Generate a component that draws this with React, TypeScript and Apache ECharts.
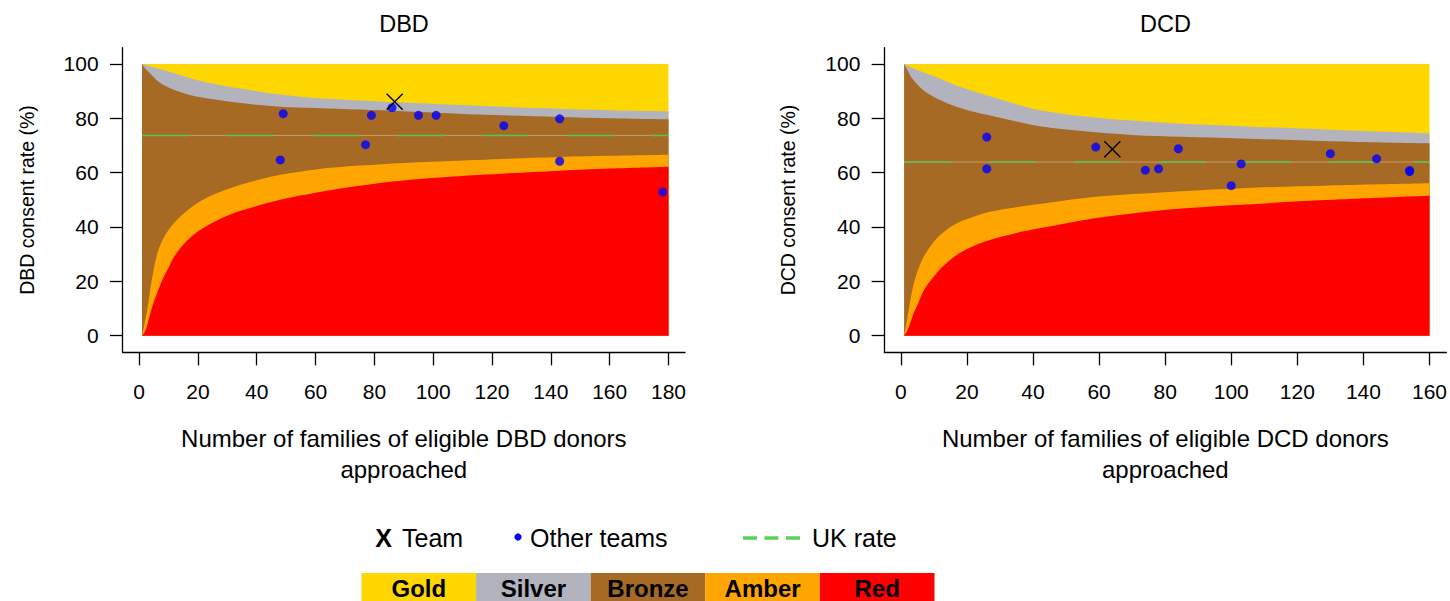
import React, { useEffect, useRef } from "react";
import * as echarts from "echarts";

// ---------- DATA ----------
const bandNames = ["Gold", "Silver", "Bronze", "Amber", "Red"];
const bandColors = ["#FFD700", "#B3B3BE", "#A66A24", "#FFA500", "#FF0000"];

const yTicks = [0, 20, 40, 60, 80, 100];
const dbdXTicks = [0, 20, 40, 60, 80, 100, 120, 140, 160, 180];
const dcdXTicks = [0, 20, 40, 60, 80, 100, 120, 140, 160];

// DBD funnel boundaries
const dbdX = [1, 2, 3, 4, 6, 8, 10, 12, 15, 19, 24, 31, 40, 48, 60, 75, 90, 115, 143, 160, 180];
const dbdTop = [100, 100, 100, 100, 100, 100, 100, 100, 100, 100, 100, 100, 100, 100, 100, 100, 100, 100, 100, 100, 100];
const dbdGoldSilver = [100, 99.7, 99.4, 99.1, 98.5, 97.8, 97.2, 96.6, 95.6, 94.3, 93.0, 91.5, 90.0, 88.8, 87.5, 86.6, 85.8, 84.6, 83.5, 83.0, 82.6];
const dbdSilverBronze = [100, 98.5, 97.3, 96.2, 94.0, 92.4, 91.3, 90.4, 89.3, 88.1, 87.2, 86.1, 85.0, 84.3, 83.8, 83.2, 82.6, 81.4, 80.5, 80.0, 79.6];
const dbdBronzeAmber = [0, 5.0, 11.0, 18.5, 29.5, 35.3, 38.9, 41.6, 44.8, 48.2, 51.3, 54.3, 57.2, 59.2, 61.2, 62.6, 63.6, 64.7, 65.8, 66.2, 66.6];
const dbdAmberRed = [0, 1.5, 4.8, 9.0, 15.3, 20.8, 25.0, 29.2, 33.5, 37.5, 41.0, 44.6, 47.7, 50.0, 52.6, 55.2, 57.1, 59.1, 60.7, 61.5, 62.2];
const dbdUkRate = 73.7;
const dbdOtherX = [49, 48, 79, 77, 86, 95, 101, 124, 143, 143, 178];
const dbdOtherY = [81.7, 64.7, 81.1, 70.3, 83.9, 81.1, 81.1, 77.3, 79.8, 64.2, 52.9];
const dbdTeam = [86.9, 86.1];

// DCD funnel boundaries
const dcdX = [1, 2, 3, 4, 5, 7, 10, 13, 17, 22, 27, 35, 42, 55, 70, 85, 103, 130, 160];
const dcdTop = [100, 100, 100, 100, 100, 100, 100, 100, 100, 100, 100, 100, 100, 100, 100, 100, 100, 100, 100];
const dcdGoldSilver = [100, 99.4, 98.8, 98.3, 97.8, 96.9, 95.5, 94.0, 92.0, 90.0, 88.1, 85.2, 83.0, 80.8, 79.2, 78.0, 77.1, 75.8, 74.5];
const dcdSilverBronze = [100, 97.8, 95.4, 93.8, 92.4, 90.1, 87.8, 86.1, 84.2, 82.4, 81.0, 78.8, 77.1, 75.3, 73.9, 73.2, 72.6, 71.6, 70.8];
const dcdBronzeAmber = [0, 6.5, 14.0, 19.5, 23.5, 29.2, 34.6, 38.2, 41.4, 43.8, 45.6, 47.3, 48.5, 50.6, 52.1, 53.2, 54.3, 55.3, 56.1];
const dcdAmberRed = [0, 2.0, 5.2, 8.6, 11.2, 16.8, 21.8, 25.8, 29.8, 33.0, 35.2, 37.8, 39.5, 42.5, 45.0, 46.8, 48.2, 50.0, 51.5];
const dcdUkRate = 63.9;
const dcdOtherX = [26, 26, 59, 74, 78, 84, 100, 103, 130, 144, 154, 154];
const dcdOtherY = [73.1, 61.4, 69.4, 60.9, 61.4, 68.8, 55.2, 63.2, 67.0, 65.1, 60.4, 60.8];
const dcdTeam = [64.0, 68.6];

const FONT = "'Liberation Sans', Arial, Helvetica, sans-serif";

function panelSeries(
  gi: number,
  xs: number[],
  bounds: number[][],
  uk: number,
  ox: number[],
  oy: number[],
  team: number[]
) {
  // each band is drawn as an area from its upper boundary down to 0; later bands paint over earlier ones
  const areas = bandNames.map((n, i) => ({
    type: "line",
    name: n,
    xAxisIndex: gi,
    yAxisIndex: gi,
    data: xs.map((x, k) => [x, bounds[i][k]]),
    symbol: "none",
    smooth: 0.35,
    lineStyle: { width: 0, color: bandColors[i] },
    areaStyle: { color: bandColors[i], opacity: 1 },
    silent: true,
    z: 1 + i,
  }));
  const ukData = [
    [xs[0], uk],
    [xs[xs.length - 1], uk],
  ];
  return [
    ...areas,
    {
      type: "line",
      xAxisIndex: gi,
      yAxisIndex: gi,
      data: ukData,
      symbol: "none",
      lineStyle: { color: "#C49C70", width: 1 },
      silent: true,
      z: 7,
    },
    {
      type: "line",
      xAxisIndex: gi,
      yAxisIndex: gi,
      data: ukData,
      symbol: "none",
      lineStyle: { color: "#55C455", width: 1.5, type: [47, 38] },
      silent: true,
      z: 8,
    },
    {
      type: "scatter",
      xAxisIndex: gi,
      yAxisIndex: gi,
      data: ox.map((x, i) => [x, oy[i]]),
      symbol: "circle",
      symbolSize: 9,
      itemStyle: { color: "#0000FF" },
      silent: true,
      z: 9,
    },
    {
      type: "custom",
      xAxisIndex: gi,
      yAxisIndex: gi,
      data: [team],
      encode: { x: 0, y: 1 },
      renderItem: (params: any, api: any) => {
        const c = api.coord([api.value(0), api.value(1)]);
        const h = 8;
        return {
          type: "group",
          children: [
            { type: "line", shape: { x1: c[0] - h, y1: c[1] - h, x2: c[0] + h, y2: c[1] + h }, style: { stroke: "#000", lineWidth: 1.4 } },
            { type: "line", shape: { x1: c[0] - h, y1: c[1] + h, x2: c[0] + h, y2: c[1] - h }, style: { stroke: "#000", lineWidth: 1.4 } },
          ],
        };
      },
      silent: true,
      z: 10,
    },
  ];
}

function xAxisFor(gi: number, min: number, max: number, ticks: number[], name: string) {
  return {
    gridIndex: gi,
    type: "value",
    min,
    max,
    axisLine: { show: true, onZero: false, lineStyle: { color: "#000", width: 1.3 } },
    axisTick: { show: true, length: 13, customValues: ticks, lineStyle: { color: "#000", width: 1.3 } },
    axisLabel: { customValues: ticks, margin: 29, fontSize: 21, color: "#000", fontFamily: FONT },
    splitLine: { show: false },
    name,
    nameLocation: "middle",
    nameGap: 71,
    nameTextStyle: { fontSize: 24, lineHeight: 31, color: "#000", fontFamily: FONT },
  };
}

function yAxisFor(gi: number, name: string) {
  return {
    gridIndex: gi,
    type: "value",
    min: -6.13,
    max: 106.0,
    axisLine: { show: true, onZero: false, lineStyle: { color: "#000", width: 1.3 } },
    axisTick: { show: true, length: 12.7, customValues: yTicks, lineStyle: { color: "#000", width: 1.3 } },
    axisLabel: { customValues: yTicks, margin: 24, fontSize: 21, color: "#000", fontFamily: FONT },
    splitLine: { show: false },
    name,
    nameLocation: "middle",
    nameGap: 86,
    nameTextStyle: { fontSize: 19.5, color: "#000", fontFamily: FONT },
  };
}

export default function App() {
  const ref = useRef<HTMLDivElement>(null);
  useEffect(() => {
    if (!ref.current) return;
    const chart = echarts.init(ref.current, undefined, { renderer: "svg" });

    const legendY = 538;
    const barTop = 573;
    const barLeft = 361.5;
    const segW = 114.6;

    const graphics: any[] = [
      { type: "text", x: 404, y: 24, style: { text: "DBD", fontSize: 23.5, fontFamily: FONT, fill: "#000", align: "center", verticalAlign: "middle" } },
      { type: "text", x: 1165.5, y: 24, style: { text: "DCD", fontSize: 23.5, fontFamily: FONT, fill: "#000", align: "center", verticalAlign: "middle" } },
      { type: "text", x: 383.5, y: legendY, style: { text: "X", fontSize: 25, fontWeight: "bold", fontFamily: FONT, fill: "#000", align: "center", verticalAlign: "middle" } },
      { type: "text", x: 402, y: legendY, style: { text: "Team", fontSize: 25, fontFamily: FONT, fill: "#000", align: "left", verticalAlign: "middle" } },
      { type: "circle", shape: { cx: 518, cy: legendY - 1, r: 3.6 }, style: { fill: "#0000FF" } },
      { type: "text", x: 530, y: legendY, style: { text: "Other teams", fontSize: 25, fontFamily: FONT, fill: "#000", align: "left", verticalAlign: "middle" } },
      { type: "line", shape: { x1: 743, y1: legendY, x2: 800, y2: legendY }, style: { stroke: "#5AD25A", lineWidth: 3.5, lineDash: [14, 7.5] } },
      { type: "text", x: 812, y: legendY, style: { text: "UK rate", fontSize: 25, fontFamily: FONT, fill: "#000", align: "left", verticalAlign: "middle" } },
    ];
    bandNames.forEach((n, i) => {
      graphics.push({
        type: "rect",
        shape: { x: barLeft + i * segW, y: barTop, width: segW, height: 40 },
        style: { fill: bandColors[i] },
      });
      graphics.push({
        type: "text",
        x: barLeft + i * segW + segW / 2,
        y: 588,
        style: { text: n, fontSize: 24, fontWeight: "bold", fontFamily: FONT, fill: "#000", align: "center", verticalAlign: "middle" },
        z: 10,
      });
    });

    chart.setOption({
      animation: false,
      textStyle: { fontFamily: FONT },
      grid: [
        { left: 122.67, top: 47.67, width: 562.3, height: 304.67, containLabel: false },
        { left: 884.33, top: 47.67, width: 562.4, height: 304.67, containLabel: false },
      ],
      xAxis: [
        xAxisFor(0, -5.58, 185.6, dbdXTicks, "Number of families of eligible DBD donors\napproached"),
        xAxisFor(1, -5.0, 165.1, dcdXTicks, "Number of families of eligible DCD donors\napproached"),
      ],
      yAxis: [yAxisFor(0, "DBD consent rate (%)"), yAxisFor(1, "DCD consent rate (%)")],
      series: [
        ...panelSeries(0, dbdX, [dbdTop, dbdGoldSilver, dbdSilverBronze, dbdBronzeAmber, dbdAmberRed], dbdUkRate, dbdOtherX, dbdOtherY, dbdTeam),
        ...panelSeries(1, dcdX, [dcdTop, dcdGoldSilver, dcdSilverBronze, dcdBronzeAmber, dcdAmberRed], dcdUkRate, dcdOtherX, dcdOtherY, dcdTeam),
      ],
      graphic: graphics,
    });
    return () => chart.dispose();
  }, []);
  return <div ref={ref} style={{ position: "absolute", left: 0, top: 0, width: 1450, height: 601 }} />;
}
